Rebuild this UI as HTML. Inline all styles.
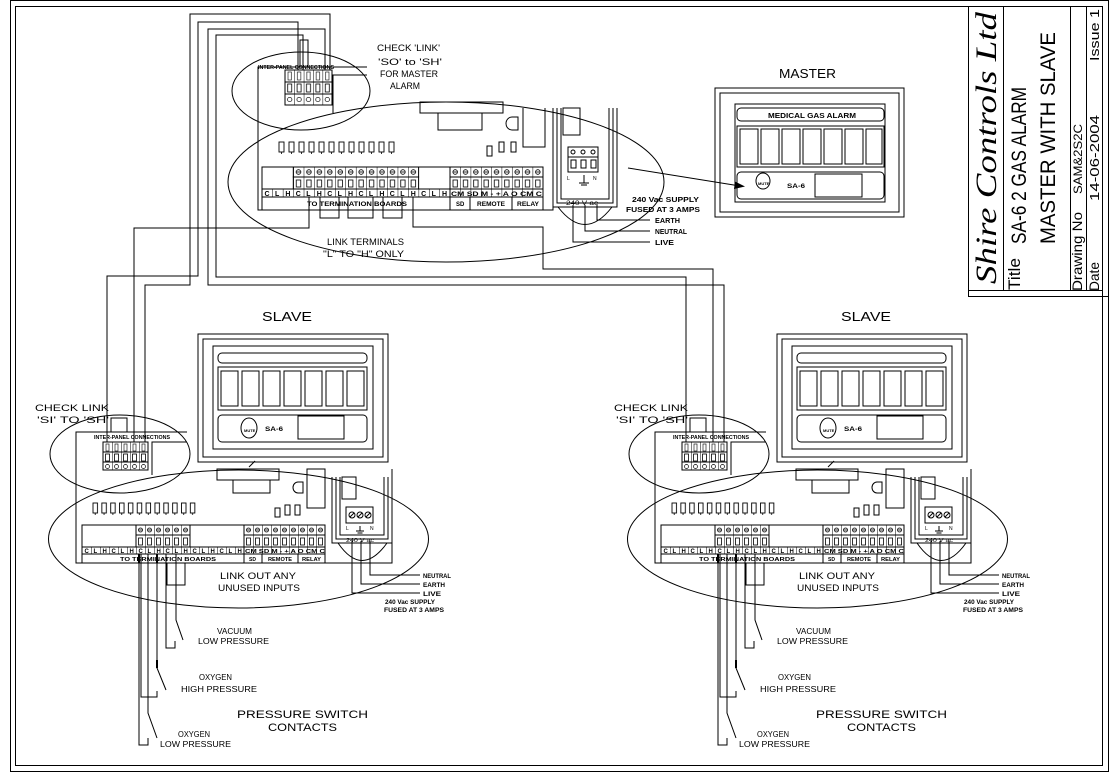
<!DOCTYPE html>
<html><head><meta charset="utf-8"><style>
html,body{margin:0;padding:0;background:#fff;}
svg{display:block;}
text{font-family:"Liberation Sans",sans-serif;fill:#000;}
</style></head><body>
<svg width="1112" height="779" viewBox="0 0 1112 779" xmlns="http://www.w3.org/2000/svg">
<defs>
<pattern id="mScrew" x="293.3" y="167" width="10.44" height="10" patternUnits="userSpaceOnUse"><line x1="0" y1="0" x2="0" y2="10" stroke="#000"/><circle cx="5.2" cy="5" r="2.3" fill="none" stroke="#000" stroke-width="0.8"/><line x1="3" y1="5" x2="7.4" y2="5" stroke="#000" stroke-width="0.8"/></pattern>
<pattern id="mFuse" x="293.3" y="177" width="10.44" height="12" patternUnits="userSpaceOnUse"><line x1="0" y1="0" x2="0" y2="12" stroke="#000"/><rect x="3" y="3" width="4.4" height="7" fill="none" stroke="#000" stroke-width="0.8"/></pattern>
<pattern id="mCell" x="262" y="189" width="10.44" height="8" patternUnits="userSpaceOnUse"><line x1="0" y1="0" x2="0" y2="8" stroke="#000"/></pattern>
<pattern id="mScrewR" x="450" y="167" width="10.33" height="10" patternUnits="userSpaceOnUse"><line x1="0" y1="0" x2="0" y2="10" stroke="#000"/><circle cx="5.2" cy="5" r="2.3" fill="none" stroke="#000" stroke-width="0.8"/><line x1="3" y1="5" x2="7.4" y2="5" stroke="#000" stroke-width="0.8"/></pattern>
<pattern id="mFuseR" x="450" y="177" width="10.33" height="12" patternUnits="userSpaceOnUse"><line x1="0" y1="0" x2="0" y2="12" stroke="#000"/><rect x="3" y="3" width="4.4" height="7" fill="none" stroke="#000" stroke-width="0.8"/></pattern>
<pattern id="mCellR" x="450" y="189" width="10.33" height="8" patternUnits="userSpaceOnUse"><line x1="0" y1="0" x2="0" y2="8" stroke="#000"/></pattern>
<pattern id="sScrew" x="136" y="525" width="9" height="10" patternUnits="userSpaceOnUse"><line x1="0" y1="0" x2="0" y2="10" stroke="#000"/><circle cx="4.5" cy="5" r="2" fill="none" stroke="#000" stroke-width="0.8"/><line x1="2.6" y1="5" x2="6.4" y2="5" stroke="#000" stroke-width="0.8"/></pattern>
<pattern id="sFuse" x="136" y="535" width="9" height="12" patternUnits="userSpaceOnUse"><line x1="0" y1="0" x2="0" y2="12" stroke="#000"/><rect x="2.5" y="3" width="4" height="7" fill="none" stroke="#000" stroke-width="0.8"/></pattern>
<pattern id="sCell" x="82" y="547" width="9" height="8" patternUnits="userSpaceOnUse"><line x1="0" y1="0" x2="0" y2="8" stroke="#000"/></pattern>
<pattern id="sScrewR" x="244" y="525" width="9" height="10" patternUnits="userSpaceOnUse"><line x1="0" y1="0" x2="0" y2="10" stroke="#000"/><circle cx="4.5" cy="5" r="2" fill="none" stroke="#000" stroke-width="0.8"/><line x1="2.6" y1="5" x2="6.4" y2="5" stroke="#000" stroke-width="0.8"/></pattern>
<pattern id="sFuseR" x="244" y="535" width="9" height="12" patternUnits="userSpaceOnUse"><line x1="0" y1="0" x2="0" y2="12" stroke="#000"/><rect x="2.5" y="3" width="4" height="7" fill="none" stroke="#000" stroke-width="0.8"/></pattern>
<pattern id="sCellR" x="244" y="547" width="9" height="7" patternUnits="userSpaceOnUse"><line x1="0" y1="0" x2="0" y2="7" stroke="#000"/></pattern>
<pattern id="fuse12m" x="278" y="140" width="10" height="16" patternUnits="userSpaceOnUse"><rect x="1" y="2" width="5" height="10" fill="none" stroke="#000" stroke-width="0.9"/><line x1="3.5" y1="12" x2="3.5" y2="14" stroke="#000" stroke-width="0.8"/></pattern>
<pattern id="fuse12s" x="92" y="502" width="8.85" height="15" patternUnits="userSpaceOnUse"><rect x="1" y="1" width="4.5" height="10" fill="none" stroke="#000" stroke-width="0.9"/><line x1="3.2" y1="11" x2="3.2" y2="13" stroke="#000" stroke-width="0.8"/></pattern>
<pattern id="tb5" x="103" y="442" width="9" height="28" patternUnits="userSpaceOnUse"><line x1="0" y1="0" x2="0" y2="28" stroke="#000"/><rect x="2.5" y="12" width="4" height="7" fill="none" stroke="#000" stroke-width="0.8"/><circle cx="4.5" cy="24.5" r="2" fill="none" stroke="#000" stroke-width="0.7"/><rect x="3" y="2" width="3" height="7" fill="none" stroke="#000" stroke-width="0.6"/></pattern>
<pattern id="tb5m" x="285" y="70" width="9.4" height="35" patternUnits="userSpaceOnUse"><line x1="0" y1="0" x2="0" y2="35" stroke="#000"/><rect x="2.7" y="14" width="4" height="8" fill="none" stroke="#000" stroke-width="0.8"/><circle cx="4.7" cy="29.5" r="2.2" fill="none" stroke="#000" stroke-width="0.7"/><rect x="3" y="2" width="3.4" height="8" fill="none" stroke="#000" stroke-width="0.6"/></pattern>
<g id="slave" fill="none" stroke="#000" stroke-width="1">
 <!-- display -->
 <rect x="198" y="334" width="190" height="128"/>
 <rect x="203" y="339" width="180" height="118"/>
 <rect x="213" y="346" width="160" height="103"/>
 <rect x="218" y="353" width="149" height="10" rx="4"/>
 <rect x="218" y="367" width="149" height="43"/>
 <rect x="221" y="371" width="17" height="35"/><rect x="242" y="371" width="17" height="35"/><rect x="263" y="371" width="17" height="35"/><rect x="284" y="371" width="17" height="35"/><rect x="305" y="371" width="17" height="35"/><rect x="326" y="371" width="17" height="35"/><rect x="347" y="371" width="17" height="35"/>
 <rect x="218" y="415" width="149" height="27" rx="4"/>
 <ellipse cx="249" cy="428" rx="8" ry="10"/>
 <rect x="298" y="416" width="46" height="23"/>
 <line x1="249" y1="467" x2="255" y2="461"/>
 <!-- ellipses -->
 <ellipse cx="120" cy="454" rx="70" ry="39"/>
 <ellipse cx="238.5" cy="539" rx="190" ry="69"/>
 <!-- board -->
 <polyline points="187,432 76,432 76,563 392,563 392,469"/>
 <polyline points="187,442 152,442 152,475"/>
 <rect x="111" y="418" width="16" height="14"/>
 <rect x="103" y="442" width="45" height="28" fill="url(#tb5)"/>
 <line x1="103" y1="452" x2="148" y2="452"/><line x1="103" y1="462" x2="148" y2="462"/>
 <rect x="217" y="469" width="62" height="11"/>
 <rect x="233" y="480" width="37" height="13"/>
 <path d="M303,482 H298 A5,5.5 0 0 0 298,493 H303 Z"/>
 <rect x="307" y="469" width="18" height="39"/>
 <rect x="92" y="502" width="106" height="15" stroke="none" fill="url(#fuse12s)"/>
 <rect x="275" y="508" width="5" height="9"/><rect x="285" y="505" width="5" height="10"/><rect x="295" y="505" width="5" height="10"/>
 <!-- supply -->
 <polyline points="332,477 332,543 392,543 392,477"/>
 <polyline points="336,477 336,539 388,539 388,477"/>
 <polyline points="340,477 340,535 384,535 384,477"/>
 <rect x="342" y="477" width="14" height="22"/>
 <rect x="346" y="507" width="27" height="16"/>
 <circle cx="352" cy="515" r="3"/><circle cx="360" cy="515" r="3"/><circle cx="368" cy="515" r="3"/>
 <line x1="350" y1="517" x2="354" y2="513"/><line x1="358" y1="517" x2="362" y2="513"/><line x1="366" y1="517" x2="370" y2="513"/>
 <line x1="360" y1="526" x2="360" y2="531"/><line x1="356" y1="531" x2="364" y2="531"/><line x1="357.5" y1="533" x2="362.5" y2="533"/>
 <path d="M338,543 Q362,578 387,543"/>
 <polyline points="352,541 352,593 420,593"/>
 <polyline points="361,541 361,584 420,584"/>
 <polyline points="370,541 370,575 420,575"/>
 <!-- strip -->
 <rect x="82" y="525" width="243" height="38"/>
 <rect x="136" y="525" width="54" height="10" fill="url(#sScrew)"/>
 <rect x="136" y="535" width="54" height="12" fill="url(#sFuse)"/>
 <rect x="244" y="525" width="81" height="10" fill="url(#sScrewR)"/>
 <rect x="244" y="535" width="81" height="12" fill="url(#sFuseR)"/>
 <rect x="82" y="547" width="162" height="7" fill="url(#sCell)"/>
 <rect x="244" y="547" width="81" height="7" fill="url(#sCellR)"/>
 <line x1="244" y1="554" x2="244" y2="563"/><line x1="262" y1="554" x2="262" y2="563"/><line x1="298" y1="554" x2="298" y2="563"/>
 <line x1="244" y1="525" x2="244" y2="547"/>
 <!-- links and switch wires -->
 <polyline points="167,563 167,585 185,585 185,563"/>
 <polyline points="176,554 176,620 183,640"/>
 <polyline points="166,554 166,648 175,648 175,641"/>
 <polyline points="157,554 157,668 166,690"/>
 <line x1="157" y1="660" x2="157" y2="668" stroke-width="2"/>
 <polyline points="141,554 141,697 157,697 157,691"/>
 <polyline points="148,554 148,713 157,738"/>
 <polyline points="139,554 139,745 148,745 148,738"/>
 <line x1="139" y1="554" x2="139" y2="563" stroke-width="2"/><line x1="157" y1="554" x2="157" y2="563" stroke-width="2"/>
</g>
<g id="slaveText">
 <text x="35" y="411" font-size="9" textLength="74" lengthAdjust="spacingAndGlyphs">CHECK LINK</text>
 <text x="37" y="423" font-size="9" textLength="72" lengthAdjust="spacingAndGlyphs">'SI' TO 'SH'</text>
 <text x="262" y="321" font-size="13" textLength="50" lengthAdjust="spacingAndGlyphs">SLAVE</text>
 <text x="94" y="439" font-size="5" font-weight="bold" textLength="76" lengthAdjust="spacingAndGlyphs">INTER-PANEL CONNECTIONS</text>
 <text x="224" y="361" font-size="6" font-weight="bold" textLength="0.1" fill="#000"> </text>
 <text x="265" y="431" font-size="6" font-weight="bold" textLength="18" lengthAdjust="spacingAndGlyphs">SA-6</text>
 <text x="244" y="432" font-size="4" font-weight="bold">MUTE</text>
 <text x="346" y="530" font-size="5">L</text><text x="370" y="530" font-size="5">N</text>
 <text x="346" y="542" font-size="5" textLength="28" lengthAdjust="spacingAndGlyphs">240 V ac</text>
 <text y="553" font-size="6" font-weight="bold" x="84.5 93.5 102.5 111.5 120.5 129.5 138.5 147.5 156.5 165.5 174.5 183.5 192.5 201.5 210.5 219.5 228.5 237.5">CLHCLHCLHCLHCLHCLH</text>
 <text x="245" y="553" font-size="5" font-weight="bold" textLength="80" lengthAdjust="spacingAndGlyphs">CM SD M  -  +  A  O CM C</text>
 <text x="120" y="561" font-size="5" font-weight="bold" textLength="96" lengthAdjust="spacingAndGlyphs">TO TERMINATION BOARDS</text>
 <text x="249" y="561" font-size="5" font-weight="bold">SD</text>
 <text x="268" y="561" font-size="5" font-weight="bold" textLength="24" lengthAdjust="spacingAndGlyphs">REMOTE</text>
 <text x="302" y="561" font-size="5" font-weight="bold" textLength="19" lengthAdjust="spacingAndGlyphs">RELAY</text>
 <text x="423" y="578" font-size="6" font-weight="bold" textLength="28" lengthAdjust="spacingAndGlyphs">NEUTRAL</text>
 <text x="423" y="587" font-size="6" font-weight="bold" textLength="22" lengthAdjust="spacingAndGlyphs">EARTH</text>
 <text x="423" y="596" font-size="6" font-weight="bold" textLength="18" lengthAdjust="spacingAndGlyphs">LIVE</text>
 <text x="385" y="604" font-size="6" font-weight="bold" textLength="50" lengthAdjust="spacingAndGlyphs">240 Vac SUPPLY</text>
 <text x="384" y="612" font-size="6" font-weight="bold" textLength="60" lengthAdjust="spacingAndGlyphs">FUSED AT 3 AMPS</text>
 <text x="220" y="579" font-size="9" textLength="76" lengthAdjust="spacingAndGlyphs">LINK OUT ANY</text>
 <text x="218" y="591" font-size="9" textLength="82" lengthAdjust="spacingAndGlyphs">UNUSED INPUTS</text>
 <text x="217" y="634" font-size="8" textLength="35" lengthAdjust="spacingAndGlyphs">VACUUM</text>
 <text x="198" y="644" font-size="8" textLength="71" lengthAdjust="spacingAndGlyphs">LOW PRESSURE</text>
 <text x="199" y="680" font-size="8" textLength="33" lengthAdjust="spacingAndGlyphs">OXYGEN</text>
 <text x="181" y="692" font-size="8" textLength="76" lengthAdjust="spacingAndGlyphs">HIGH PRESSURE</text>
 <text x="178" y="737" font-size="8" textLength="32" lengthAdjust="spacingAndGlyphs">OXYGEN</text>
 <text x="160" y="747" font-size="8" textLength="71" lengthAdjust="spacingAndGlyphs">LOW PRESSURE</text>
 <text x="237" y="718" font-size="11" textLength="131" lengthAdjust="spacingAndGlyphs">PRESSURE SWITCH</text>
 <text x="268" y="731" font-size="11" textLength="69" lengthAdjust="spacingAndGlyphs">CONTACTS</text>
</g>
</defs>

<!-- frame -->
<g fill="none" stroke="#000" stroke-width="1">
 <rect x="10.5" y="0.5" width="1098" height="771"/>
 <rect x="15.5" y="6.5" width="1087" height="759"/>
 <rect x="968.5" y="6.5" width="134" height="284"/>
 <line x1="968" y1="296.5" x2="1108" y2="296.5"/>
 <line x1="968.5" y1="290" x2="968.5" y2="296"/>
 <line x1="1003.5" y1="6" x2="1003.5" y2="290"/>
 <line x1="1070.5" y1="6" x2="1070.5" y2="290"/>
 <line x1="1086.5" y1="6" x2="1086.5" y2="290"/>
</g>
<g>
 <text transform="translate(996,284) rotate(-90)" font-family="Liberation Serif" font-style="italic" font-size="30" textLength="272" lengthAdjust="spacingAndGlyphs" style="font-family:'Liberation Serif',serif">Shire Controls Ltd</text>
 <text transform="translate(1020,290) rotate(-90)" font-size="17" textLength="32" lengthAdjust="spacingAndGlyphs">Title</text>
 <text transform="translate(1026,244) rotate(-90)" font-size="21" textLength="157" lengthAdjust="spacingAndGlyphs">SA-6 2 GAS ALARM</text>
 <text transform="translate(1055,244) rotate(-90)" font-size="21" textLength="212" lengthAdjust="spacingAndGlyphs">MASTER WITH SLAVE</text>
 <text transform="translate(1082,291) rotate(-90)" font-size="14" textLength="79" lengthAdjust="spacingAndGlyphs">Drawing No</text>
 <text transform="translate(1082,194) rotate(-90)" font-size="12" textLength="70" lengthAdjust="spacingAndGlyphs">SAM&amp;2S2C</text>
 <text transform="translate(1099,291) rotate(-90)" font-size="14" textLength="29" lengthAdjust="spacingAndGlyphs">Date</text>
 <text transform="translate(1099,201) rotate(-90)" font-size="13" textLength="86" lengthAdjust="spacingAndGlyphs">14-06-2004</text>
 <text transform="translate(1099,61) rotate(-90)" font-size="13" textLength="52" lengthAdjust="spacingAndGlyphs">Issue 1</text>
</g>

<!-- slaves -->
<use href="#slave"/>
<use href="#slaveText"/>
<use href="#slave" transform="translate(579,0)"/>
<use href="#slaveText" transform="translate(579,0)"/>

<!-- master -->
<g fill="none" stroke="#000" stroke-width="1">
 <ellipse cx="301" cy="91" rx="69" ry="39"/>
 <ellipse cx="446" cy="182" rx="218" ry="80"/>
 <polyline points="367,67 258,67 258,210 553,210 553,108"/>
 <polyline points="367,75 333,75 333,113"/>
 <rect x="300" y="40" width="8" height="27"/>
 <rect x="285" y="70" width="47" height="35" fill="url(#tb5m)"/>
 <line x1="285" y1="82" x2="332" y2="82"/><line x1="285" y1="94" x2="332" y2="94"/>
 <rect x="420" y="102" width="83" height="11"/>
 <rect x="438" y="113" width="44" height="17"/>
 <path d="M518,117 H512 A6,6.5 0 0 0 512,130 H518 Z"/>
 <polyline points="523,108 523,147 545,147 545,108"/>
 <rect x="278" y="140" width="120" height="16" stroke="none" fill="url(#fuse12m)"/>
 <rect x="487" y="146" width="5" height="10"/><rect x="499" y="142" width="5" height="10"/><rect x="511" y="142" width="5" height="10"/>
 <!-- supply -->
 <polyline points="553,108 553,207 617,207 617,108"/>
 <polyline points="557,108 557,203 613,203 613,108"/>
 <polyline points="561,108 561,199 609,199 609,108"/>
 <rect x="563" y="108" width="17" height="27"/>
 <rect x="568" y="147" width="30" height="25"/>
 <line x1="568" y1="157" x2="598" y2="157"/>
 <rect x="571" y="160" width="5" height="8"/><rect x="581" y="160" width="5" height="8"/><rect x="591" y="160" width="5" height="8"/>
 <circle cx="573" cy="152" r="2"/><circle cx="583" cy="152" r="2"/><circle cx="593" cy="152" r="2"/>
 <line x1="584" y1="175" x2="584" y2="183"/><line x1="579" y1="183" x2="589" y2="183"/><line x1="581" y1="185" x2="587" y2="185"/>
 <path d="M558,207 Q585,242 612,207"/>
 <polyline points="573,205 573,242 650,242"/>
 <polyline points="585,205 585,231 650,231"/>
 <polyline points="597,205 597,220 650,220"/>
 <!-- strip -->
 <rect x="262" y="167" width="281" height="43"/>
 <rect x="293.3" y="167" width="125.3" height="10" fill="url(#mScrew)"/>
 <rect x="293.3" y="177" width="125.3" height="12" fill="url(#mFuse)"/>
 <rect x="450" y="167" width="93" height="10" fill="url(#mScrewR)"/>
 <rect x="450" y="177" width="93" height="12" fill="url(#mFuseR)"/>
 <rect x="262" y="189" width="188" height="8" fill="url(#mCell)"/>
 <rect x="450" y="189" width="93" height="8" fill="url(#mCellR)"/>
 <line x1="450" y1="167" x2="450" y2="210"/><line x1="470" y1="197" x2="470" y2="210"/><line x1="512" y1="197" x2="512" y2="210"/>
 <!-- link terminals -->
 <polyline points="320,197 320,218 339,218 339,197"/>
 <polyline points="348,197 348,218 373,218 373,197"/>
 <polyline points="383,197 383,218 402,218 402,197"/>
 <!-- interconnect wires -->
 <polyline points="309,197 309,228 134,228 134,442"/>
 <polyline points="413,197 413,227 543,227 543,269 713,269 713,442"/>
 <polyline points="330,70 330,14 190,14 190,285 145,285 145,442"/>
 <polyline points="298,70 298,22 198,22 198,276 107,276 107,442"/>
 <polyline points="325,70 325,29 208,29 208,285 724,285 724,442"/>
 <polyline points="303,70 303,35 216,35 216,277 686,277 686,442"/>
 <!-- master display -->
 <rect x="715" y="88" width="189" height="129"/>
 <rect x="720" y="93" width="179" height="119"/>
 <rect x="735" y="104" width="150" height="98"/>
 <rect x="737" y="108" width="147" height="13" rx="4"/>
 <rect x="737" y="126" width="147" height="41"/>
 <rect x="740" y="129" width="18" height="35"/><rect x="761" y="129" width="18" height="35"/><rect x="782" y="129" width="18" height="35"/><rect x="803" y="129" width="18" height="35"/><rect x="824" y="129" width="18" height="35"/><rect x="845" y="129" width="18" height="35"/><rect x="866" y="129" width="16" height="35"/>
 <rect x="737" y="172" width="147" height="27" rx="4"/>
 <ellipse cx="763" cy="181" rx="7" ry="8"/>
 <rect x="815" y="174" width="47" height="23"/>
 <line x1="628" y1="168" x2="740" y2="186"/>
</g>
<polygon points="745,186.5 735,181.5 734,189" fill="#000"/>
<g>
 <text x="377" y="51" font-size="9" textLength="63" lengthAdjust="spacingAndGlyphs">CHECK 'LINK'</text>
 <text x="378" y="65" font-size="9" textLength="64" lengthAdjust="spacingAndGlyphs">'SO' to 'SH'</text>
 <text x="380" y="77" font-size="9" textLength="58" lengthAdjust="spacingAndGlyphs">FOR MASTER</text>
 <text x="390" y="89" font-size="9" textLength="30" lengthAdjust="spacingAndGlyphs">ALARM</text>
 <text x="779" y="78" font-size="13" textLength="57" lengthAdjust="spacingAndGlyphs">MASTER</text>
 <text x="258" y="69" font-size="5" font-weight="bold" textLength="76" lengthAdjust="spacingAndGlyphs">INTER-PANEL CONNECTIONS</text>
 <text x="327" y="245" font-size="9" textLength="77" lengthAdjust="spacingAndGlyphs">LINK TERMINALS</text>
 <text x="323" y="257" font-size="9" textLength="81" lengthAdjust="spacingAndGlyphs">"L" TO "H" ONLY</text>
 <text x="632" y="202" font-size="7" font-weight="bold" textLength="67" lengthAdjust="spacingAndGlyphs">240 Vac SUPPLY</text>
 <text x="626" y="212" font-size="7" font-weight="bold" textLength="74" lengthAdjust="spacingAndGlyphs">FUSED AT 3 AMPS</text>
 <text x="655" y="223" font-size="7" font-weight="bold" textLength="25" lengthAdjust="spacingAndGlyphs">EARTH</text>
 <text x="655" y="234" font-size="7" font-weight="bold" textLength="32" lengthAdjust="spacingAndGlyphs">NEUTRAL</text>
 <text x="655" y="245" font-size="7" font-weight="bold" textLength="19" lengthAdjust="spacingAndGlyphs">LIVE</text>
 <text x="567" y="180" font-size="5">L</text><text x="593" y="180" font-size="5">N</text>
 <text x="566" y="205" font-size="6" textLength="32" lengthAdjust="spacingAndGlyphs">240 V ac</text>
 <text y="196" font-size="7" font-weight="bold" x="264.5 275 285.4 295.8 306.3 316.7 327.2 337.6 348 358.5 368.9 379.4 389.8 400.2 410.7 421.1 431.6 442">CLHCLHCLHCLHCLHCLH</text>
 <text x="451" y="196" font-size="6" font-weight="bold" textLength="91" lengthAdjust="spacingAndGlyphs">CM SD M  -  +  A  O CM C</text>
 <text x="307" y="206" font-size="6" font-weight="bold" textLength="100" lengthAdjust="spacingAndGlyphs">TO TERMINATION BOARDS</text>
 <text x="456" y="206" font-size="6" font-weight="bold">SD</text>
 <text x="477" y="206" font-size="6" font-weight="bold" textLength="28" lengthAdjust="spacingAndGlyphs">REMOTE</text>
 <text x="517" y="206" font-size="6" font-weight="bold" textLength="22" lengthAdjust="spacingAndGlyphs">RELAY</text>
 <text x="768" y="118" font-size="7" font-weight="bold" textLength="88" lengthAdjust="spacingAndGlyphs">MEDICAL GAS ALARM</text>
 <text x="787" y="188" font-size="6" font-weight="bold" textLength="18" lengthAdjust="spacingAndGlyphs">SA-6</text>
 <text x="758" y="185" font-size="4" font-weight="bold">MUTE</text>
</g>
</svg>
</body></html>
